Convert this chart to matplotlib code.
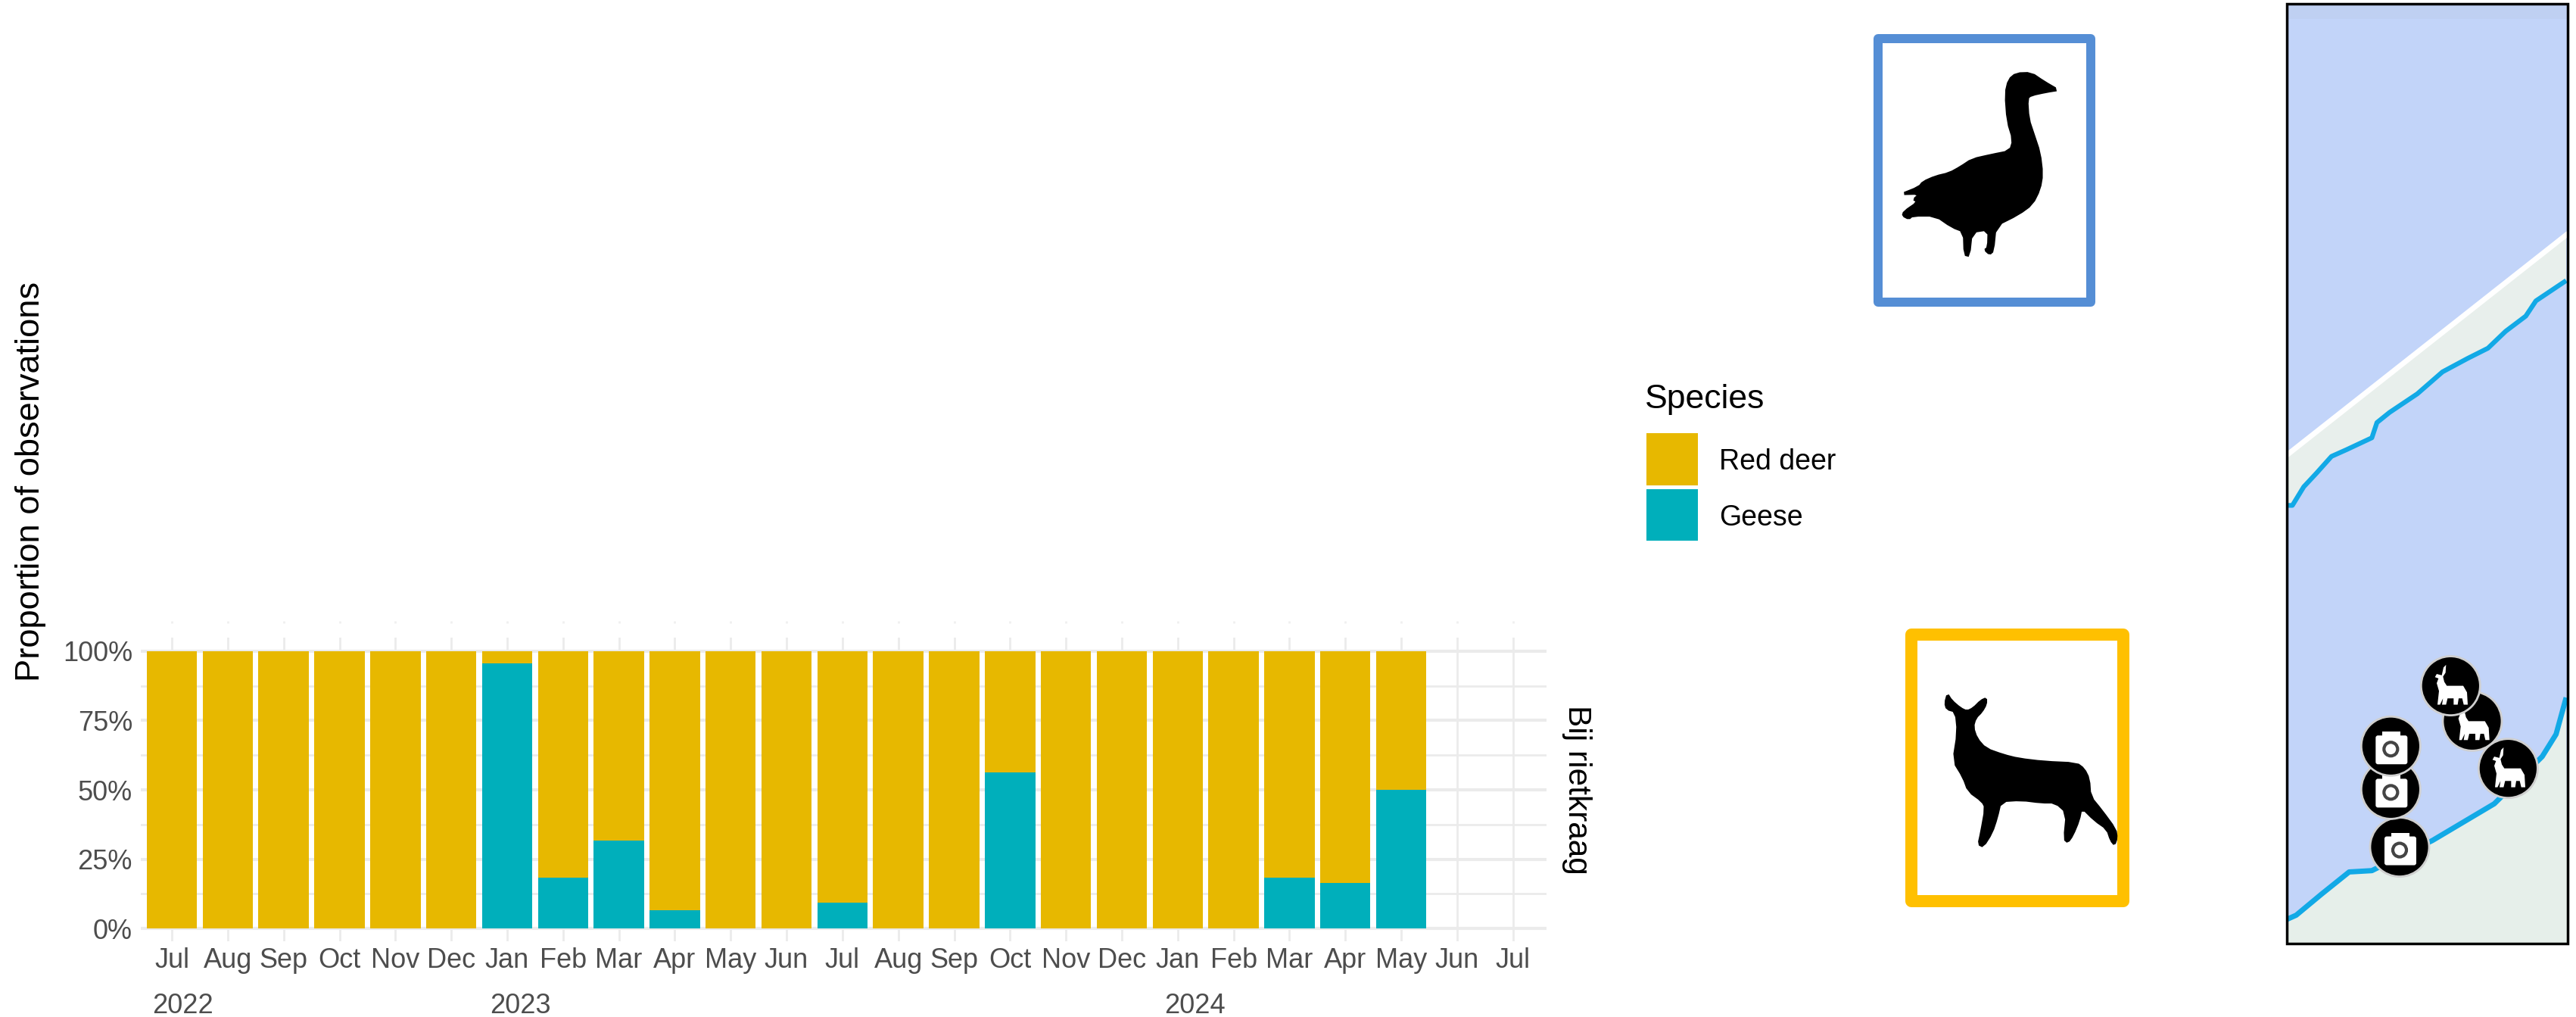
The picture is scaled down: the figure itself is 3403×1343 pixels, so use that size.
import numpy as np
import matplotlib
matplotlib.use("Agg")
from matplotlib import pyplot as plt
from matplotlib.patches import Polygon, Rectangle, Circle, FancyBboxPatch

plt.rcParams['font.family'] = ['Liberation Sans', 'DejaVu Sans']

W, H = 3403, 1343

# Data
months = ['Jul', 'Aug', 'Sep', 'Oct', 'Nov', 'Dec', 'Jan', 'Feb', 'Mar', 'Apr', 'May', 'Jun',
          'Jul', 'Aug', 'Sep', 'Oct', 'Nov', 'Dec', 'Jan', 'Feb', 'Mar', 'Apr', 'May', 'Jun', 'Jul']
geese = [0, 0, 0, 0, 0, 0, 95.5, 18.4, 31.8, 6.7, 0, 0,
         9.4, 0, 0, 56.3, 0, 0, 0, 0, 18.4, 16.4, 50]
red_deer = [100, 100, 100, 100, 100, 100, 4.5, 81.6, 68.2, 93.3, 100, 100,
            90.6, 100, 100, 43.7, 100, 100, 100, 100, 81.6, 83.6, 50]
y_ticks = [0, 25, 50, 75, 100]
y_minor = [12.5, 37.5, 62.5, 87.5]
y_labels = ['0%', '25%', '50%', '75%', '100%']
years = ['2022', '2023', '2024']
year_pos = [0.2, 6.23, 18.3]

RED_DEER = '#E7B800'
GEESE = '#00AFBB'
GRID = '#EBEBEB'
TXT = '#4D4D4D'

goose = [(180, 710), (255, 680), (270, 660), (320, 638), (375, 625), (420, 600), (465, 570), (540, 553),
         (615, 538), (628, 495), (605, 420), (597, 310), (610, 255), (640, 230), (700, 228), (750, 262),
         (810, 297), (760, 305), (700, 318), (685, 330), (690, 410), (710, 470), (735, 545), (745, 630),
         (735, 690), (705, 750), (650, 790), (560, 835), (550, 935), (535, 948), (515, 930), (528, 920),
         (530, 850), (465, 860), (455, 955), (435, 950), (432, 858), (385, 840), (320, 795), (230, 795),
         (215, 808), (190, 795), (195, 778), (250, 740), (232, 730), (258, 708)]
deer = [(218, 288), (235, 315), (270, 345), (295, 357), (320, 345), (350, 315), (372, 305), (372, 330),
        (355, 360), (330, 385), (320, 420), (335, 465), (370, 505), (440, 530), (500, 545), (600, 557),
        (730, 563), (760, 585), (780, 625), (785, 695), (830, 750), (885, 825), (890, 860), (880, 888),
        (865, 870), (850, 825), (800, 790), (750, 740), (740, 790), (715, 850), (695, 878), (680, 865),
        (690, 760), (645, 720), (590, 720), (510, 710), (430, 715), (415, 780), (395, 840), (360, 895),
        (340, 885), (350, 840), (368, 740), (355, 715), (300, 675), (280, 620), (240, 555), (258, 440),
        (250, 360), (215, 350), (208, 325)]
strip_line = [(65, 1495), (85, 1495), (130, 1440), (180, 1400), (240, 1350), (300, 1330), (400, 1295),
              (420, 1250), (470, 1220), (580, 1165), (680, 1100), (780, 1060), (860, 1030), (930, 980),
              (1010, 935), (1050, 890), (1110, 860), (1170, 830)]
strip_top = [(65, 1345), (1170, 695)]
shore = [(65, 1195), (100, 1180), (200, 1100), (310, 1015), (400, 1010), (640, 895), (885, 755),
         (1075, 575), (1130, 490), (1170, 350)]
deer_pins = [(798, 440), (712, 305), (940, 620)]
camera_pins = [(510, 920), (475, 700), (475, 535)]
pin_deer = [(-55, -45), (-35, -40), (-28, -70), (-18, -80), (-20, -50), (-30, -35), (-25, -15), (-15, 0),
            (50, 0), (65, 25), (68, 72), (52, 72), (46, 48), (32, 48), (28, 72), (12, 72), (12, 48),
            (-12, 48), (-18, 72), (-34, 72), (-30, 48), (-42, 72), (-52, 72), (-46, 20), (-55, -10),
            (-48, -28), (-62, -33)]


def smooth(points, rounds=1):
    pts = np.array(points, dtype=float)
    for i in range(rounds):
        nxt = np.roll(pts, -1, axis=0)
        pts = np.column_stack([0.75 * pts + 0.25 * nxt, 0.25 * pts + 0.75 * nxt]).reshape(-1, 2)
    return pts


def from_crop(points, x0, y0, sx, sy):
    pts = np.array(points, dtype=float)
    return np.column_stack([x0 + pts[:, 0] / sx, y0 + pts[:, 1] / sy])


fig = plt.figure(figsize=(W / 100, H / 100), dpi=100, facecolor='white')

# Bar chart
left, right, top, bottom = 186, 2043, 842, 1243
ax = fig.add_axes([left / W, 1 - bottom / H, (right - left) / W, (bottom - top) / H])
x = np.arange(len(geese))
ax.bar(x, geese, width=0.9, color=GEESE, zorder=3)
ax.bar(x, red_deer, width=0.9, bottom=geese, color=RED_DEER, zorder=3)
ax.set_xlim(-0.556, 24.6)
ax.set_ylim(-4.6, 104.9)
ax.set_xticks(np.arange(len(months)))
ax.set_xticklabels(months, fontsize=26, color=TXT)
ax.set_yticks(y_ticks)
ax.set_yticklabels(y_labels, fontsize=26, color=TXT)
ax.set_yticks(y_minor, minor=True)
ax.tick_params(axis='x', length=0, pad=6)
ax.tick_params(axis='y', length=0, pad=8)
ax.tick_params(axis='y', which='minor', length=0)
ax.grid(True, which='major', axis='y', color=GRID, lw=3, zorder=0)
ax.grid(True, which='minor', axis='y', color=GRID, lw=2, zorder=0)
ax.grid(True, which='major', axis='x', color=GRID, lw=2, zorder=0)
ax.vlines(np.arange(len(months)), 110, 111, color='#F0F0F0', lw=2, clip_on=False)
for s in ax.spines.values():
    s.set_visible(False)
trans = ax.get_xaxis_transform()
for name, pos in zip(years, year_pos):
    ax.text(pos, -0.212, name, transform=trans, fontsize=26, color=TXT, ha='center', va='center')

# Everything else is placed in pixel coordinates
ov = fig.add_axes([0, 0, 1, 1], zorder=5)
ov.set_xlim(0, W)
ov.set_ylim(H, 0)
ov.axis('off')
ov.patch.set_alpha(0)

ov.text(41, 636, 'Proportion of observations', rotation=90, fontsize=32.6, color='black', ha='center', va='center')
ov.text(2083, 1043, 'Bij rietkraag', rotation=-90, fontsize=30.5, color='black', ha='center', va='center')

# Legend
ov.text(2173, 527, 'Species', fontsize=32, color='black', ha='left', va='center')
ov.add_patch(Rectangle((2175, 572), 68, 69, fc=RED_DEER, ec='none'))
ov.add_patch(Rectangle((2175, 646), 68, 68, fc=GEESE, ec='none'))
ov.text(2271, 610, 'Red deer', fontsize=27, color='black', ha='left', va='center')
ov.text(2271, 684, 'Geese', fontsize=27, color='black', ha='left', va='center')

# Goose and deer boxes
ov.add_patch(Rectangle((2481, 51), 281, 348, fc='white', ec='#558ED5', lw=12 * 0.72, joinstyle='round'))
ov.add_patch(Polygon(smooth(from_crop(goose, 2450, 20, 3, 3)), closed=True, fc='black', ec='black', lw=1.5))
ov.add_patch(Rectangle((2525, 838), 280, 352, fc='white', ec='#FFC000', lw=16 * 0.72, joinstyle='round'))
ov.add_patch(Polygon(smooth(from_crop(deer, 2500, 820, 3, 3)), closed=True, fc='black', ec='black', lw=1.5))

# Map
mx0, mx1, my0, my1 = 3021, 3392, 5, 1246
ov.add_patch(Rectangle((mx0, my0), mx1 - mx0, my1 - my0, fc='#C2D4F9', ec='none'))
ov.add_patch(Rectangle((mx0, my0), mx1 - mx0, 20, fc='#BFD0F2', ec='none'))
line1 = from_crop(strip_line, 3000, 0, 3, 2.24)
edge1 = from_crop(strip_top, 3000, 0, 3, 2.24)
ov.add_patch(Polygon(np.vstack([edge1, line1[::-1]]), closed=True, fc='#E8EFEC', ec='none'))
ov.plot(edge1[:, 0], edge1[:, 1], color='white', lw=5, zorder=1.5)
ov.plot(line1[:, 0], line1[:, 1], color='#12A9E6', lw=4.5, solid_capstyle='butt', solid_joinstyle='round', zorder=1.5)
line2 = from_crop(shore, 3000, 800, 3, 2.888)
land = np.vstack([line2, [(mx1, my1), (mx0, my1)]])
ov.add_patch(Polygon(land, closed=True, fc='#E6EFEA', ec='none'))
ov.plot(line2[:, 0], line2[:, 1], color='#12A9E6', lw=5, solid_capstyle='butt', solid_joinstyle='round', zorder=1.5)

for cx, cy in deer_pins:
    c = from_crop([(cx, cy)], 3000, 800, 3, 2.888)[0]
    ov.add_patch(Circle(c, 39, fc='black', ec='#CFCFCF', lw=2, zorder=3))
    shape = from_crop([(cx + a, cy + b) for a, b in pin_deer], 3000, 800, 3, 2.888)
    ov.add_patch(Polygon(shape, closed=True, fc='white', ec='none', zorder=3))

for cx, cy in camera_pins:
    c = from_crop([(cx, cy)], 3000, 800, 3, 2.888)[0]
    ov.add_patch(Circle(c, 39, fc='black', ec='#CFCFCF', lw=2, zorder=3))
    ov.add_patch(FancyBboxPatch((c[0] - 20, c[1] - 14), 42, 38, boxstyle='round,pad=0,rounding_size=3',
                                fc='white', ec='none', zorder=3))
    ov.add_patch(Rectangle((c[0] - 11, c[1] - 19), 24, 6, fc='white', ec='none', zorder=3))
    ov.add_patch(Circle((c[0], c[1] + 4), 9, fc='white', ec='#444444', lw=3, zorder=3))

ov.add_patch(Rectangle((mx0, my0), mx1 - mx0, my1 - my0, fc='none', ec='black', lw=2.5, zorder=4))

fig.savefig('out.png', dpi=100)
